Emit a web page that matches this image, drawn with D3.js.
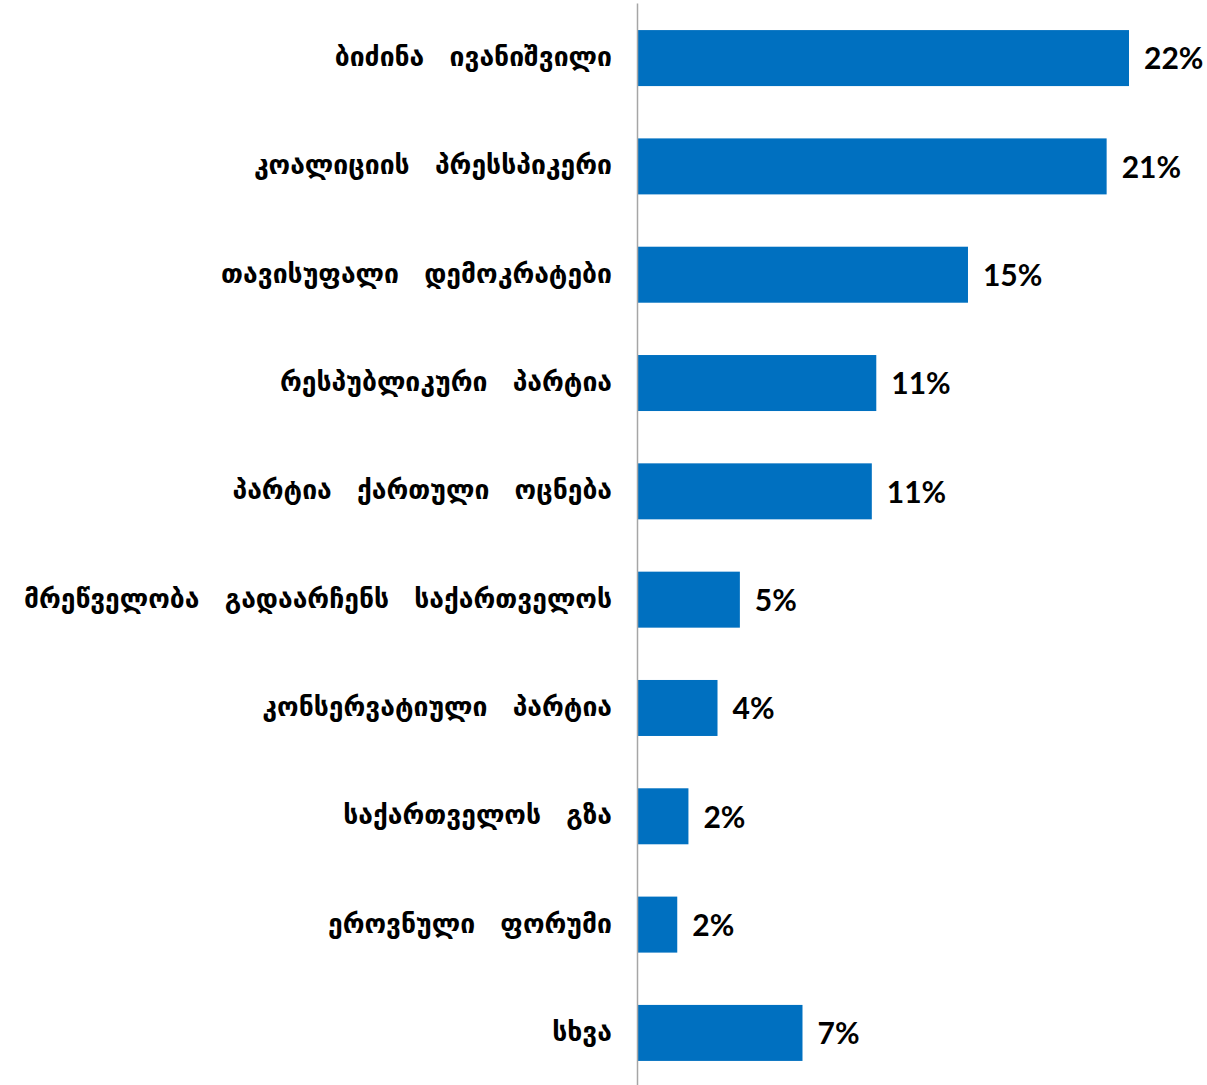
<!DOCTYPE html>
<html>
<head>
<meta charset="utf-8">
<script src="https://cdn.jsdelivr.net/npm/d3@7"></script>
<style>
    body { margin: 0; background: #fff; }
    .y-axis text { font-family: "DejaVu Sans", sans-serif; font-weight: bold; font-size: 26.5px; fill: #000; word-spacing: 16px; }
    .y-axis path { stroke: #a6a6a6; stroke-width: 1.5; }
    .val-label { font-family: Lato, "Open Sans", sans-serif; font-weight: bold; font-size: 30px; fill: #000; }
</style>
</head>
<body>
<div id="chart"></div>
<script>
// categories top -> bottom
const parties = [
    "ბიძინა ივანიშვილი",
    "კოალიციის პრესსპიკერი",
    "თავისუფალი დემოკრატები",
    "რესპუბლიკური პარტია",
    "პარტია ქართული ოცნება",
    "მრეწველობა გადაარჩენს საქართველოს",
    "კონსერვატიული პარტია",
    "საქართველოს გზა",
    "ეროვნული ფორუმი",
    "სხვა"
];
// shares (%)
const shares = [22.0, 21.0, 14.8, 10.7, 10.5, 4.6, 3.6, 2.3, 1.8, 7.4];
// printed labels
const shareLabels = ["22%", "21%", "15%", "11%", "11%", "5%", "4%", "2%", "2%", "7%"];

class BarChart {
    constructor(parentElement) {
        this.parentElement = parentElement;
        this.initVis();
    }

    initVis() {
        let vis = this;
        vis.width = 1207;
        vis.height = 1085;
        vis.left = 637;

        vis.svg = d3.select("#" + vis.parentElement).append("svg")
            .attr("width", vis.width)
            .attr("height", vis.height);

        vis.x = d3.scaleLinear().domain([0, 22]).range([vis.left, vis.left + 492]);
        vis.y = d3.scaleBand().domain(parties).range([3, 1088])
            .paddingInner(0.483).paddingOuter(0.25);

        vis.updateVis();
    }

    updateVis() {
        let vis = this;
        let rows = parties.map((p, i) => ({name: p, value: shares[i], label: shareLabels[i]}));

        vis.svg.selectAll("rect.bar").data(rows).enter().append("rect")
            .attr("class", "bar")
            .attr("x", vis.x(0))
            .attr("y", d => vis.y(d.name))
            .attr("width", d => vis.x(d.value) - vis.x(0))
            .attr("height", vis.y.bandwidth())
            .attr("fill", "#0070c0");

        vis.svg.selectAll("text.val-label").data(rows).enter().append("text")
            .attr("class", "val-label")
            .attr("x", d => vis.x(d.value) + 15)
            .attr("y", d => vis.y(d.name) + vis.y.bandwidth() / 2)
            .attr("dy", "0.38em")
            .text(d => d.label);

        // category labels come from the axis
        let axis = d3.axisLeft(vis.y).tickSize(0).tickSizeOuter(0).tickPadding(25);
        vis.svg.append("g")
            .attr("class", "y-axis")
            .attr("transform", "translate(" + vis.left + ",0)")
            .call(axis)
            .selectAll("text")
            .attr("dy", "0.3em");
    }
}

new BarChart("chart");
</script>
</body>
</html>
